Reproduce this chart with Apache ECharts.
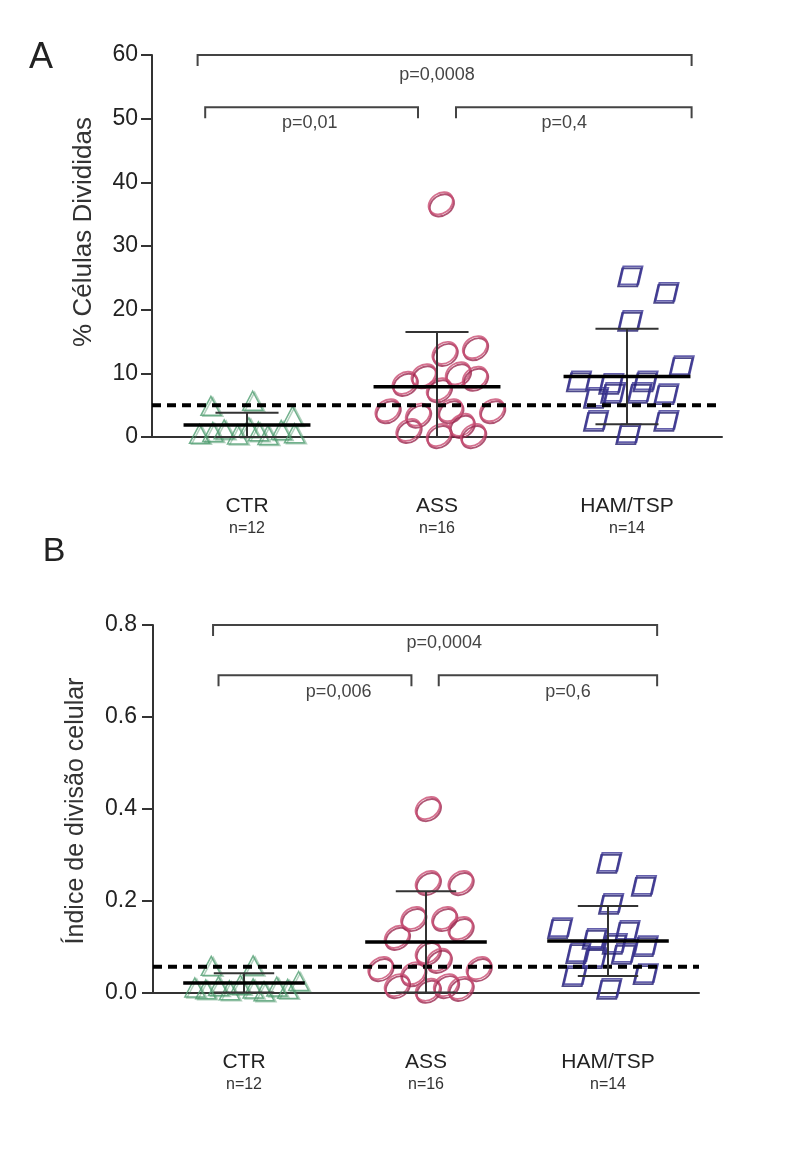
<!DOCTYPE html>
<html>
<head>
<meta charset="utf-8">
<script src="https://cdn.jsdelivr.net/npm/echarts@6/dist/echarts.min.js"></script>
<style>
    html, body { margin: 0; padding: 0; background: #fff; }
    #main { width: 790px; height: 1149px; }
</style>
</head>
<body>
<div id="main"></div>
<script>
// grupos
var groups = ['CTR', 'ASS', 'HAM/TSP'];
var groupN = ['n=12', 'n=16', 'n=14'];

// A - % células divididas
var ctrA = [4.9, 5.7, 3.3, 0.5, 0.8, 1.2, 0.4, 1.5, 0.9, 0.3, 1.1, 0.6];
var ctrAJit = [-0.19, 0.03, 0.24, -0.25, -0.18, -0.12, -0.05, 0.01, 0.06, 0.11, 0.18, 0.25];
var assA = [36.7, 13.2, 14.1, 8.5, 9.7, 10.0, 9.3, 7.5, 4.2, 3.5, 4.2, 4.2, 1.1, 0.3, 1.9, 0.3];
var assAJit = [0.02, 0.04, 0.20, -0.17, -0.07, 0.11, 0.20, 0.01, -0.26, -0.10, 0.07, 0.29, -0.15, 0.01, 0.13, 0.19];
var hamA = [25.4, 22.8, 18.4, 11.3, 8.9, 8.5, 8.9, 6.3, 7.1, 7.1, 6.9, 2.7, 2.7, 0.6];
var hamAJit = [0.02, 0.21, 0.02, 0.29, -0.25, -0.08, 0.10, -0.16, -0.07, 0.07, 0.21, -0.16, 0.21, 0.01];
var meanA = [1.9, 7.9, 9.5];
var sdA = [1.9, 8.6, 7.5];
var cutA = 5;
var bracketsA = [[0.74, 3.34, 60], [0.78, 1.9, 51.8], [2.1, 3.34, 51.8]];
var pLabelsA = ['p=0,0008', 'p=0,01', 'p=0,4'];
var pTextA = [[2.0, 56.8], [1.33, 49.3], [2.67, 49.3]];

// B - índice de divisão celular
var ctrB = [0.059, 0.060, 0.026, 0.012, 0.008, 0.015, 0.006, 0.018, 0.010, 0.004, 0.014, 0.009];
var ctrBJit = [-0.18, 0.05, 0.30, -0.27, -0.21, -0.14, -0.08, -0.02, 0.05, 0.11, 0.18, 0.24];
var assB = [0.402, 0.241, 0.241, 0.163, 0.163, 0.141, 0.122, 0.089, 0.072, 0.054, 0.054, 0.043, 0.017, 0.007, 0.017, 0.011];
var assBJit = [0.01, 0.01, 0.19, -0.07, 0.10, 0.19, -0.16, 0.01, 0.07, -0.25, 0.29, -0.07, -0.16, 0.01, 0.11, 0.19];
var hamB = [0.285, 0.235, 0.196, 0.143, 0.137, 0.120, 0.104, 0.089, 0.078, 0.087, 0.039, 0.043, 0.011, 0.109];
var hamBJit = [0.01, 0.20, 0.02, -0.26, 0.11, -0.07, 0.21, -0.16, -0.07, 0.09, -0.18, 0.21, 0.01, 0.04];
var meanB = [0.022, 0.111, 0.113];
var sdB = [0.021, 0.110, 0.076];
var cutB = 0.057;
var bracketsB = [[0.83, 3.27, 0.8], [0.86, 1.92, 0.691], [2.07, 3.27, 0.691]];
var pLabelsB = ['p=0,0004', 'p=0,006', 'p=0,6'];
var pTextB = [[2.1, 0.761], [1.52, 0.654], [2.78, 0.654]];

var FONT = 'Liberation Sans, Arial, sans-serif';

function pts(values, jit, cat) {
    return values.map(function (v, i) {
        return [cat + jit[i], v];
    });
}

//barra de erro (média ± DP)
function errorBarItem(params, api) {
    var x = api.value(0), m = api.value(1), s = api.value(2);
    var w = api.size([1, 0])[0];
    var c = api.coord([x, m]);
    var top = api.coord([x, m + s]);
    var low = m - s;
    var bot = api.coord([x, Math.max(low, 0)]);
    var thin = { stroke: '#333', lineWidth: 2 };
    var children = [
        { type: 'line', shape: { x1: c[0], y1: top[1], x2: c[0], y2: bot[1] }, style: thin },
        { type: 'line', shape: { x1: c[0] - 0.166 * w, y1: top[1], x2: c[0] + 0.166 * w, y2: top[1] }, style: thin },
        { type: 'line', shape: { x1: c[0] - 0.334 * w, y1: c[1], x2: c[0] + 0.334 * w, y2: c[1] }, style: { stroke: '#000', lineWidth: 3.5 } }
    ];
    if (low >= 0) {
        children.push({ type: 'line', shape: { x1: c[0] - 0.166 * w, y1: bot[1], x2: c[0] + 0.166 * w, y2: bot[1] }, style: thin });
    }
    return { type: 'group', children: children };
}

//colchetes com valor de p
function bracketRender(labels, texts) {
    return function (params, api) {
        var a = api.coord([api.value(0), api.value(2)]);
        var b = api.coord([api.value(1), api.value(2)]);
        var t = api.coord(texts[params.dataIndex]);
        return {
            type: 'group',
            children: [{
                type: 'polyline',
                shape: { points: [[a[0], a[1] + 11], [a[0], a[1]], [b[0], b[1]], [b[0], b[1] + 11]] },
                style: { stroke: '#444', lineWidth: 2, fill: null }
            }, {
                type: 'text',
                x: t[0], y: t[1],
                style: { text: labels[params.dataIndex], fill: '#444', font: '18px ' + FONT, align: 'center', verticalAlign: 'middle' }
            }]
        };
    };
}

function catAxis(gridIndex) {
    return {
        type: 'category', gridIndex: gridIndex, data: groups,
        boundaryGap: true,
        axisLine: { lineStyle: { color: '#333', width: 2 } },
        axisTick: { alignWithLabel: true, length: 15, lineStyle: { color: '#333', width: 2 } },
        axisLabel: {
            margin: 56,
            formatter: function (v, i) { return '{a|' + v + '}\n{b|' + groupN[i] + '}'; },
            rich: {
                a: { fontSize: 21, color: '#222', fontFamily: FONT, lineHeight: 26 },
                b: { fontSize: 16, color: '#333', fontFamily: FONT, lineHeight: 20 }
            }
        },
        splitLine: { show: false }
    };
}

function valXAxis(gridIndex) {
    return { type: 'value', gridIndex: gridIndex, min: 0.5, max: 3.5, show: false };
}

function yAxis(gridIndex, max, step, fmt, margin) {
    return {
        type: 'value', gridIndex: gridIndex, min: 0, max: max, interval: step,
        axisLine: { show: true, lineStyle: { color: '#333', width: 2 } },
        axisTick: { show: true, length: 11, lineStyle: { color: '#333', width: 2 } },
        axisLabel: { fontSize: 23, color: '#222', fontFamily: FONT, margin: margin, formatter: fmt },
        splitLine: { show: false }
    };
}

var triStyle = { color: 'transparent', borderColor: '#4f9e70', borderWidth: 1.5, shadowColor: 'rgba(60,140,90,0.5)', shadowOffsetX: 2, shadowOffsetY: 1 };
var cirStyle = { color: 'transparent', borderColor: '#c94d73', borderWidth: 2, shadowColor: '#9b2950', shadowOffsetX: 1, shadowOffsetY: 2 };
var sqStyle = { color: 'transparent', borderColor: '#3d3796', borderWidth: 2, shadowColor: '#221d6e', shadowOffsetX: -1, shadowOffsetY: 2 };
var parallelogram = 'path://M2,0 L11,0 L9,9 L0,9 Z';

function panelSeries(xIdx, yIdx, ctr, ctrJ, ass, assJ, ham, hamJ, mean, sd, cut, brackets, labels, texts) {
    return [{
        type: 'scatter', xAxisIndex: xIdx, yAxisIndex: yIdx, data: pts(ctr, ctrJ, 1),
        symbol: 'triangle', symbolSize: [20, 19], itemStyle: triStyle, z: 2
    }, {
        type: 'scatter', xAxisIndex: xIdx, yAxisIndex: yIdx, data: pts(ass, assJ, 2),
        symbol: 'circle', symbolSize: [26, 20], symbolRotate: 35, itemStyle: cirStyle, z: 2
    }, {
        type: 'scatter', xAxisIndex: xIdx, yAxisIndex: yIdx, data: pts(ham, hamJ, 3),
        symbol: parallelogram, symbolSize: [23, 18], itemStyle: sqStyle, z: 2
    }, {
        type: 'line', xAxisIndex: xIdx, yAxisIndex: yIdx, data: [[0.5, cut], [3.5, cut]],
        symbol: 'none', lineStyle: { color: '#000', width: 4, type: [9, 6] }, z: 4
    }, {
        type: 'custom', xAxisIndex: xIdx, yAxisIndex: yIdx, renderItem: errorBarItem,
        data: mean.map(function (m, i) { return [i + 1, m, sd[i]]; }), z: 5
    }, {
        type: 'custom', xAxisIndex: xIdx, yAxisIndex: yIdx, renderItem: bracketRender(labels, texts),
        data: brackets, z: 5
    }];
}

var myChart = echarts.init(document.getElementById('main'));
myChart.setOption({
    backgroundColor: '#fff',
    animation: false,
    textStyle: { fontFamily: FONT },
    grid: [
        { left: 152, top: 55, width: 570, height: 382 },
        { left: 153, top: 625, width: 546, height: 368 }
    ],
    xAxis: [catAxis(0), valXAxis(0), catAxis(1), valXAxis(1)],
    yAxis: [
        yAxis(0, 60, 10, null, 14),
        yAxis(1, 0.8, 0.2, function (v) { return v.toFixed(1); }, 16)
    ],
    graphic: [
        { type: 'text', x: 41, y: 58, style: { text: 'A', font: '36px ' + FONT, fill: '#222', align: 'center', verticalAlign: 'middle' } },
        { type: 'text', x: 54, y: 552, style: { text: 'B', font: '34px ' + FONT, fill: '#222', align: 'center', verticalAlign: 'middle' } },
        { type: 'text', x: 84, y: 232, rotation: Math.PI / 2, style: { text: '% Células Divididas', font: '26px ' + FONT, fill: '#333', align: 'center', verticalAlign: 'middle' } },
        { type: 'text', x: 76, y: 811, rotation: Math.PI / 2, style: { text: 'Índice de divisão celular', font: '25px ' + FONT, fill: '#333', align: 'center', verticalAlign: 'middle' } }
    ],
    series: [].concat(
        panelSeries(1, 0, ctrA, ctrAJit, assA, assAJit, hamA, hamAJit, meanA, sdA, cutA, bracketsA, pLabelsA, pTextA),
        panelSeries(3, 1, ctrB, ctrBJit, assB, assBJit, hamB, hamBJit, meanB, sdB, cutB, bracketsB, pLabelsB, pTextB)
    )
});
</script>
</body>
</html>
